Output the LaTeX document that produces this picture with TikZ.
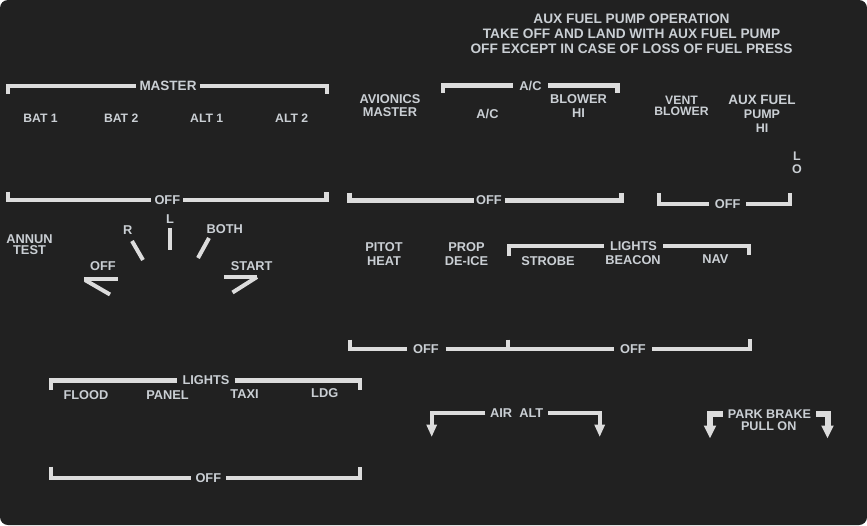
\documentclass[tikz,border=0pt]{standalone}
\usepackage{fontspec}
\setmainfont{Liberation Sans}
\usetikzlibrary{arrows.meta}
\definecolor{bg}{RGB}{33,33,33}
\definecolor{txt}{RGB}{202,207,212}
\definecolor{ln}{RGB}{220,220,220}
\newcommand\fsz[2]{\fontsize{#1}{#2}\selectfont}
\begin{document}
\begin{tikzpicture}[x=1pt,y=-1pt,
  lbl/.style={text=txt, font=\bfseries\fsz{12.8}{13}, align=center, inner sep=0pt},
  br/.style={draw=ln, line width=4.3pt, line cap=butt, line join=miter},
  sw/.style={draw=ln, line width=4pt, line cap=butt},
  arr/.style={draw=ln, line width=4pt, line cap=butt, line join=miter, -{Triangle[width=10pt,length=12.5pt]}},
  parr/.style={draw=ln, line width=6pt, line cap=butt, line join=miter, -{Triangle[width=11.5pt,length=13pt]}}
]
\useasboundingbox (0,0) rectangle (867,525);
\fill[white] (0,0) rectangle (867,525);
\fill[bg, rounded corners=8pt] (0,0) rectangle (867,525);

% top note
\node[lbl, font=\bfseries\fsz{13.7}{15}] (note) at (631.5,33.3) {AUX FUEL PUMP OPERATION\\TAKE OFF AND LAND WITH AUX FUEL PUMP\\OFF EXCEPT IN CASE OF LOSS OF FUEL PRESS};

% master group
\node[lbl, font=\bfseries\fsz{13.5}{14}, inner xsep=3pt] (master) at (168,86) {MASTER};
\draw[br] (8,94) -- (8,86) -- (master.west);
\draw[br] (master.east) -- (327,86) -- (327,94);
\node[lbl, font=\bfseries\fsz{12.2}{13}] (bat1) at (40.5,118) {BAT 1};
\node[lbl, font=\bfseries\fsz{12.2}{13}] (bat2) at (121.2,118) {BAT 2};
\node[lbl, font=\bfseries\fsz{12.2}{13}] (alt1) at (206.7,118) {ALT 1};
\node[lbl, font=\bfseries\fsz{12.2}{13}] (alt2) at (291.7,118) {ALT 2};
\node[lbl, inner xsep=3pt] (moff) at (167.3,200) {OFF};
\draw[br] (8,191.5) -- (8,200) -- (moff.west);
\draw[br] (moff.east) -- (326.5,200) -- (326.5,191.5);

% avionics / A/C
\node[lbl, font=\bfseries\fsz{12.8}{12.4}] (avm) at (390,105.5) {AVIONICS\\MASTER};
\node[lbl, inner xsep=6.5pt] (acb) at (530.5,85.5) {A/C};
\draw[br] (443,92.5) -- (443,85.5) -- (acb.west);
\draw[br] (acb.east) -- (617.5,85.5) -- (617.5,92.5);
\node[lbl] (ac) at (487.5,113.7) {A/C};
\node[lbl, font=\bfseries\fsz{12.8}{14.5}] (blw) at (578.5,106) {BLOWER\\HI};
\node[lbl, inner xsep=2.5pt] (aoff) at (489,200.5) {OFF};
\draw[br, line width=5pt] (349,192.5) -- (349,200.5) -- (aoff.west);
\draw[br, line width=5pt] (aoff.east) -- (621,200.5) -- (621,192.5);

% vent / aux fuel
\node[lbl, font=\bfseries\fsz{12.2}{11.7}] (vent) at (681.5,105.8) {VENT\\BLOWER};
\node[lbl, font=\bfseries\fsz{12.5}{13.8}] (aux) at (762,113.7) {{\fsz{13.5}{13.8}AUX FUEL}\\PUMP\\HI};
\node[lbl, font=\bfseries\fsz{12.5}{13}] (lo) at (797,162.3) {L\\O};
\node[lbl, inner xsep=5.5pt] (voff) at (727.7,204) {OFF};
\draw[br] (659,193) -- (659,204) -- (voff.west);
\draw[br] (voff.east) -- (790,204) -- (790,193);

% rotary switch
\node[lbl, font=\bfseries\fsz{12.8}{11.4}] (annun) at (29.5,244.7) {ANNUN\\TEST};
\node[lbl] (rl) at (127.8,230) {R};
\node[lbl] (ll) at (170,219) {L};
\node[lbl] (bl) at (224.7,229.3) {BOTH};
\node[lbl] (ol) at (103,265.8) {OFF};
\node[lbl] (sl) at (251.7,265.7) {START};
\draw[sw] (132,241) -- (143,260);
\draw[sw] (170,228) -- (170,250);
\draw[sw] (209,238) -- (198,258);
\draw[sw] (84,279) -- (118,279);
\draw[sw] (85,280) -- (110,294.5);
\draw[sw] (224,277) -- (257,277);
\draw[sw] (257,277) -- (232.5,292.5);

% pitot / prop / lights
\node[lbl, font=\bfseries\fsz{12.8}{14}] (pitot) at (384,254.2) {PITOT\\HEAT};
\node[lbl, font=\bfseries\fsz{12.8}{14}] (prop) at (466.5,254.2) {PROP\\DE-ICE};
\node[lbl, inner xsep=6pt] (lr) at (633.5,245.7) {LIGHTS};
\draw[br] (508.7,256) -- (508.7,245.7) -- (lr.west);
\draw[br] (lr.east) -- (749,245.7) -- (749,255);
\node[lbl] (strobe) at (548,260.7) {STROBE};
\node[lbl] (beacon) at (633,259.7) {BEACON};
\node[lbl] (nav) at (715.3,259.2) {NAV};
\node[lbl, inner xsep=6.5pt] (off1) at (426,349) {OFF};
\node[lbl, inner xsep=6pt] (off2) at (633,349) {OFF};
\draw[br] (350.3,339.5) -- (350.3,349) -- (off1.west);
\draw[br] (off1.east) -- (off2.west);
\draw[br] (508.3,339.5) -- (508.3,349);
\draw[br] (off2.east) -- (750,349) -- (750,339);

% lower-left lights
\node[lbl, inner xsep=5pt] (llt) at (206,380.5) {LIGHTS};
\draw[br] (51.3,390) -- (51.3,380.5) -- (llt.west);
\draw[br] (llt.east) -- (360,380.5) -- (360,390);
\node[lbl] (flood) at (86,395.3) {FLOOD};
\node[lbl] (panel) at (167.5,395.3) {PANEL};
\node[lbl] (taxi) at (244.5,394) {TAXI};
\node[lbl] (ldg) at (324.7,393.3) {LDG};
\node[lbl, inner xsep=4.5pt] (boff) at (208.3,478) {OFF};
\draw[br] (51.3,466.5) -- (51.3,478) -- (boff.west);
\draw[br] (boff.east) -- (360,478) -- (360,466.5);

% air alt
\node[lbl, inner xsep=4.5pt] (aa) at (516.7,412.8) {AIR\ \ ALT};
\draw[arr] (aa.west) -- (431.7,412.8) -- (431.7,437);
\draw[arr] (aa.east) -- (599.7,412.8) -- (599.7,437);

% park brake
\node[lbl, font=\bfseries\fsz{12.6}{12}, inner xsep=5pt] (pb1) at (769.5,414) {PARK BRAKE};
\node[lbl, font=\bfseries\fsz{12.6}{12}] (pb2) at (768.7,426.5) {PULL ON};
\draw[parr] (pb1.west) -- (710,414) -- (710,438.5);
\draw[parr] (pb1.east) -- (827.5,414) -- (827.5,438.5);
\end{tikzpicture}
\end{document}
